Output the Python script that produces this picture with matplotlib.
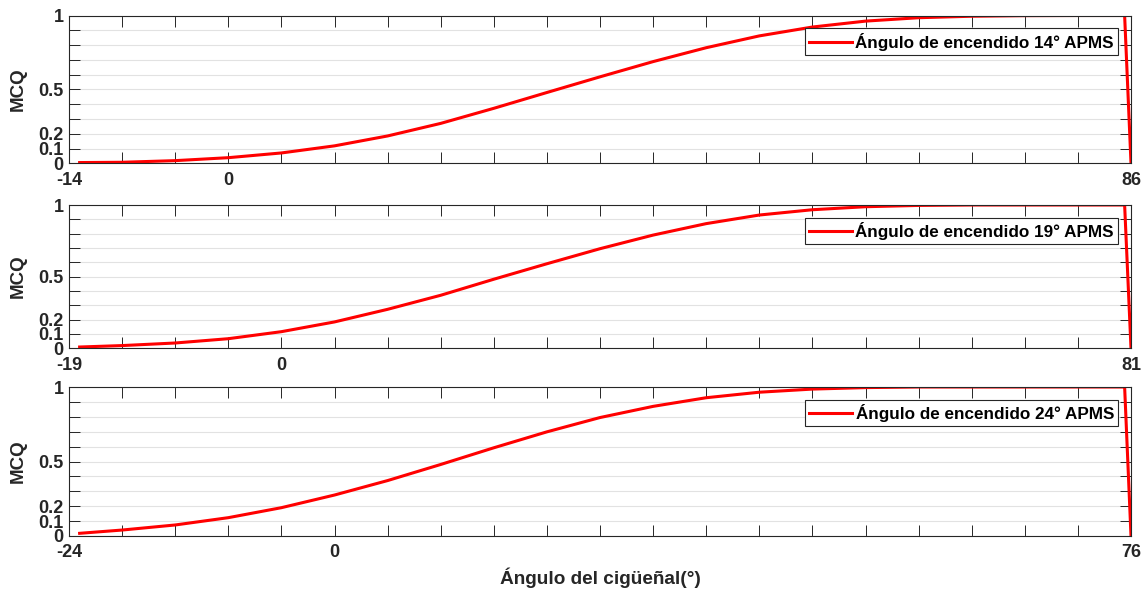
import numpy as np
import matplotlib.pyplot as plt

plt.rcParams['font.family'] = ['Liberation Sans', 'DejaVu Sans']
plt.rcParams['font.weight'] = 'bold'

# crank position on the plotted scale (0..100), shared by the three curves
x_pos = [1, 5, 10, 15, 20, 25, 30, 35, 40, 45, 50, 55, 60, 65, 70, 75, 80, 85, 90, 95, 99.4, 100]

mcq_14 = [0.005, 0.007, 0.018, 0.038, 0.070, 0.118, 0.185, 0.27, 0.372, 0.479, 0.585,
          0.688, 0.782, 0.862, 0.922, 0.962, 0.985, 0.995, 0.999, 1.0, 1.0, 0.0]
mcq_19 = [0.009, 0.019, 0.037, 0.067, 0.116, 0.184, 0.272, 0.37, 0.482, 0.59, 0.695,
          0.79, 0.87, 0.93, 0.967, 0.988, 0.997, 1.0, 1.0, 1.0, 1.0, 0.0]
mcq_24 = [0.018, 0.04, 0.074, 0.123, 0.19, 0.275, 0.372, 0.48, 0.592, 0.699, 0.795,
          0.87, 0.928, 0.965, 0.986, 0.996, 1.0, 1.0, 1.0, 1.0, 1.0, 0.0]

series = [mcq_14, mcq_19, mcq_24]
legend_labels = ['Ángulo de encendido 14° APMS',
                 'Ángulo de encendido 19° APMS',
                 'Ángulo de encendido 24° APMS']
# labelled x ticks: position -> text
xtick_labels = [
    {0: '-14', 15: '0', 100: '86'},
    {0: '-19', 20: '0', 100: '81'},
    {0: '-24', 25: '0', 100: '76'},
]
ytick_labels = {0.0: '0', 0.1: '0.1', 0.2: '0.2', 0.5: '0.5', 1.0: '1'}

W, H = 1146, 589
fig = plt.figure(figsize=(W / 100, H / 100), dpi=100)

# panel boxes in pixels (top, bottom)
boxes = [(15.5, 163.3), (205.0, 348.3), (387.0, 536.0)]
left_px, right_px = 69, 1131
dark = '#262626'

xt = np.arange(0, 101, 5)
yt = np.round(np.arange(0, 1.01, 0.1), 1)

for i, (top, bot) in enumerate(boxes):
    ax = fig.add_axes([left_px / W, 1 - bot / H, (right_px - left_px) / W, (bot - top) / H])
    ax.plot(x_pos, series[i], color='red', lw=2.2, label=legend_labels[i])
    ax.set_xlim(0, 100)
    ax.set_ylim(0, 1)

    ax.set_xticks(xt)
    ax.set_xticklabels([xtick_labels[i].get(int(v), '') for v in xt])
    ax.set_yticks(yt)
    ax.set_yticklabels([ytick_labels.get(float(v), '') for v in yt])

    ax.tick_params(direction='in', top=True, right=True, length=7.6, width=0.7,
                   color=dark, labelcolor=dark, labelsize=13)
    ax.tick_params(axis='x', pad=6)
    ax.tick_params(axis='y', pad=4)
    ax.yaxis.grid(True, color='#e2e2e2', lw=0.8)
    for s in ax.spines.values():
        s.set_color(dark)
        s.set_linewidth(0.8)

    ax.set_ylabel('MCQ', fontsize=13.5, fontweight='bold', color=dark)
    ax.yaxis.set_label_coords(-0.04, 0.5)

    leg = ax.legend(loc='upper right', bbox_to_anchor=(1, 1), borderaxespad=0.75,
                    fancybox=False, edgecolor=dark, framealpha=1,
                    prop={'size': 12.3, 'weight': 'bold'},
                    handlelength=2.5, handletextpad=0.2, borderpad=0.25)
    leg.get_frame().set_linewidth(0.8)

fig.text(600 / W, 1 - 578 / H, 'Ángulo del cigüeñal(°)', ha='center', va='center',
         fontsize=13.7, fontweight='bold', color=dark)

fig.savefig('out.png', dpi=100)
